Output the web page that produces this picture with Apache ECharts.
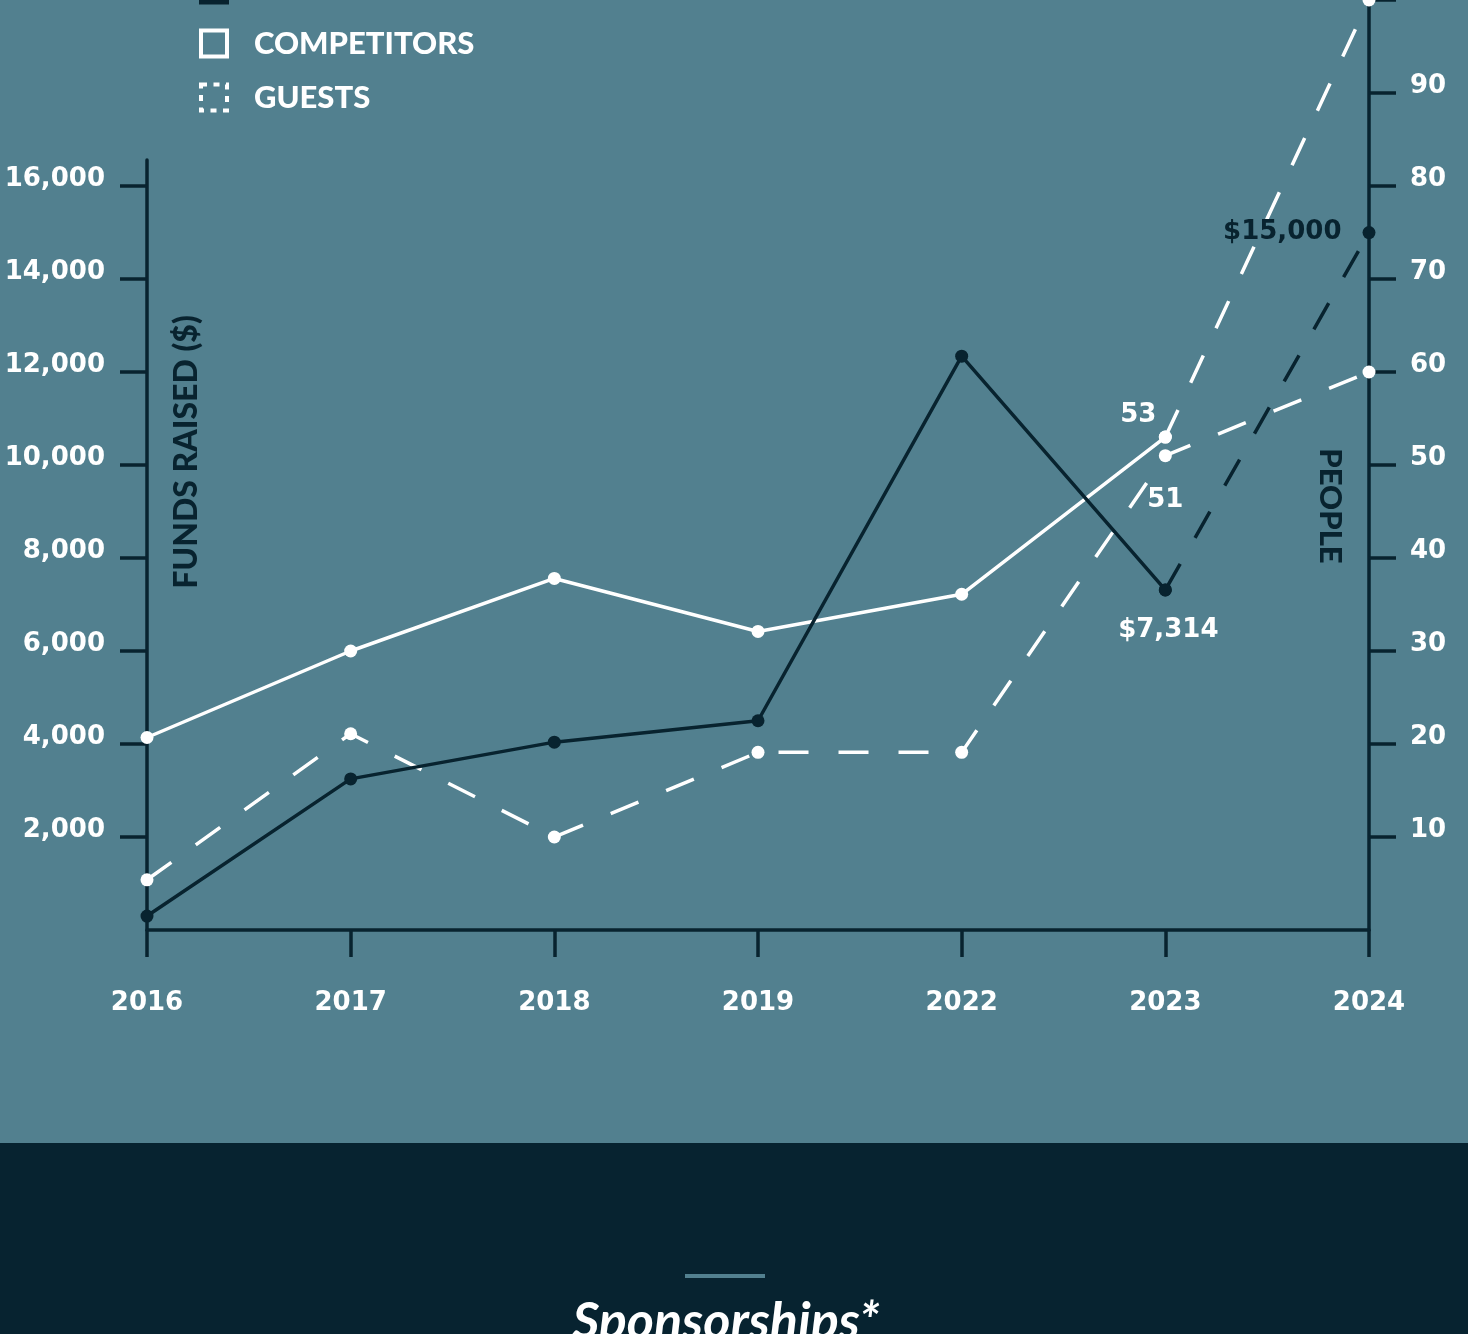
<!DOCTYPE html>
<html><head><meta charset="utf-8">
<style>html,body{margin:0;padding:0;background:#52808f;overflow:hidden}#c{width:1468px;height:1334px}</style>
<script src="https://cdn.jsdelivr.net/npm/echarts@6/dist/echarts.min.js"></script>
</head><body><div id="c"></div>
<script>
// ---- data ----
const years = ['2016', '2017', '2018', '2019', '2022', '2023', '2024'];
const fundsRaised = [300, 3250, 4040, 4500, 12340, 7314, null];
const fundsProjected = [null, null, null, null, null, 7314, 15000];
const competitors = [20.7, 30, 37.8, 32.1, 36.1, 53, null];
const competitorsProjected = [null, null, null, null, null, 53, 100];
const guests = [5.4, 21.1, 10, 19.1, 19.1, 51, 60];
const fundsLabels = [null, null, null, null, null, '$7,314', null];
const fundsProjectedLabels = [null, null, null, null, null, null, '$15,000'];
const competitorLabels = [null, null, null, null, null, '53', null];
const guestLabels = [null, null, null, null, null, '51', null];
const fundsTicks = [2000, 4000, 6000, 8000, 10000, 12000, 14000, 16000];
const peopleTicks = [10, 20, 30, 40, 50, 60, 70, 80, 90, 100];

// ---- style ----
const BG = '#52808f', DARK = '#08232f', WHITE = '#ffffff', BAND = '#072330';
const NUM_FONT = 'DejaVu Sans', TXT_FONT = 'Lato';
const LW = 3.5, DASH = [30, 30];

function withLabels(values, labels, style) {
  return values.map((v, i) => labels[i] ? { value: v, label: Object.assign({ show: true, formatter: labels[i] }, style) } : v);
}
const lblBase = { fontFamily: NUM_FONT, fontWeight: 'bold', fontSize: 26 };

const chart = echarts.init(document.getElementById('c'), null, { renderer: 'canvas' });
const axisLineStyle = { color: DARK, width: LW };
const numLabel = { color: WHITE, fontFamily: NUM_FONT, fontWeight: 'bold', fontSize: 26 };

chart.setOption({
  animation: false,
  backgroundColor: BG,
  grid: [
    { left: 147, right: 99, top: 160, bottom: 404, outerBoundsMode: 'none', containLabel: false },
    { left: 147, right: 99, top: 0, bottom: 404, outerBoundsMode: 'none', containLabel: false }
  ],
  legend: {
    left: 199, top: -26, orient: 'vertical', padding: 0,
    itemWidth: 26, itemHeight: 26, itemGap: 23,
    selectedMode: false,
    textStyle: { color: WHITE, fontFamily: TXT_FONT, fontWeight: 900, fontSize: 31, lineHeight: 26, padding: [0, 0, 0, 22] },
    data: [
      { name: 'FUNDS RAISED', icon: 'rect', itemStyle: { color: DARK, borderColor: DARK, borderWidth: 4 } },
      { name: 'COMPETITORS', icon: 'rect', itemStyle: { color: 'rgba(0,0,0,0)', borderColor: WHITE, borderWidth: 4 } },
      { name: 'GUESTS', icon: 'rect', itemStyle: { color: 'rgba(0,0,0,0)', borderColor: WHITE, borderWidth: 4, borderType: [6, 6.5] } }
    ]
  },
  xAxis: [
    { gridIndex: 0, type: 'category', data: years, boundaryGap: false, show: false },
    {
      gridIndex: 1, type: 'category', data: years, boundaryGap: false,
      axisLine: { lineStyle: axisLineStyle },
      axisTick: { show: true, length: 27, lineStyle: axisLineStyle },
      axisLabel: Object.assign({ margin: 60 }, numLabel),
      splitLine: { show: false }
    }
  ],
  yAxis: [
    {
      gridIndex: 0, type: 'value', position: 'left', min: 0, max: 16560, interval: 2000,
      axisLine: { show: true, lineStyle: axisLineStyle },
      axisTick: { show: true, length: 27, lineStyle: axisLineStyle, customValues: fundsTicks },
      axisLabel: Object.assign({ margin: 42, customValues: fundsTicks, verticalAlign: 'bottom', lineHeight: 14,
        formatter: v => Number(v).toLocaleString('en-US') }, numLabel),
      splitLine: { show: false }
    },
    {
      gridIndex: 1, type: 'value', position: 'right', min: 0, max: 100, interval: 10,
      axisLine: { show: true, lineStyle: axisLineStyle },
      axisTick: { show: true, length: 27, lineStyle: axisLineStyle, customValues: peopleTicks },
      axisLabel: Object.assign({ margin: 41, customValues: peopleTicks, verticalAlign: 'bottom', lineHeight: 14 }, numLabel),
      splitLine: { show: false }
    }
  ],
  series: [
    {
      name: 'COMPETITORS', type: 'line', xAxisIndex: 1, yAxisIndex: 1,
      data: withLabels(competitors, competitorLabels, Object.assign({ position: 'top', offset: [-27, 3], color: WHITE }, lblBase)),
      symbol: 'circle', symbolSize: 13, itemStyle: { color: WHITE },
      lineStyle: { color: WHITE, width: LW }, z: 3
    },
    {
      name: 'COMPETITORS', type: 'line', xAxisIndex: 1, yAxisIndex: 1,
      data: competitorsProjected,
      symbol: 'circle', symbolSize: 13, itemStyle: { color: WHITE },
      lineStyle: { color: WHITE, width: LW, type: DASH }, z: 3
    },
    {
      name: 'GUESTS', type: 'line', xAxisIndex: 1, yAxisIndex: 1,
      data: withLabels(guests, guestLabels, Object.assign({ position: 'bottom', offset: [0, 20], color: WHITE }, lblBase)),
      symbol: 'circle', symbolSize: 13, itemStyle: { color: WHITE },
      lineStyle: { color: WHITE, width: LW, type: DASH }, z: 3
    },
    {
      name: 'FUNDS RAISED', type: 'line', xAxisIndex: 0, yAxisIndex: 0,
      data: withLabels(fundsRaised, fundsLabels, Object.assign({ position: 'bottom', offset: [3, 16], color: WHITE }, lblBase)),
      symbol: 'circle', symbolSize: 13, itemStyle: { color: DARK },
      lineStyle: { color: DARK, width: LW }, z: 4
    },
    {
      name: 'FUNDS RAISED', type: 'line', xAxisIndex: 0, yAxisIndex: 0,
      data: withLabels(fundsProjected, fundsProjectedLabels, Object.assign({ position: 'left', offset: [-16, 0], color: DARK }, lblBase)),
      symbol: 'circle', symbolSize: 13, itemStyle: { color: DARK },
      lineStyle: { color: DARK, width: LW, type: DASH }, z: 4
    }
  ],
  graphic: [
    { type: 'text', x: 187, y: 452, rotation: Math.PI / 2, z: 10,
      style: { text: 'FUNDS RAISED ($)', fill: DARK, font: '900 32px Lato', align: 'center', verticalAlign: 'middle' } },
    { type: 'text', x: 1330, y: 506, rotation: -Math.PI / 2, z: 10,
      style: { text: 'PEOPLE', fill: DARK, font: '900 31px Lato', align: 'center', verticalAlign: 'middle' } },
    { type: 'rect', shape: { x: 0, y: 1143, width: 1468, height: 191 }, style: { fill: BAND }, z: 0 },
    { type: 'rect', shape: { x: 685, y: 1274, width: 80, height: 4 }, style: { fill: BG }, z: 1 },
    { type: 'text', x: 726, y: 1322, z: 2,
      style: { text: 'Sponsorships*', fill: WHITE, font: 'italic bold 52px Lato', align: 'center', verticalAlign: 'middle' } }
  ]
});
</script>
</body></html>
